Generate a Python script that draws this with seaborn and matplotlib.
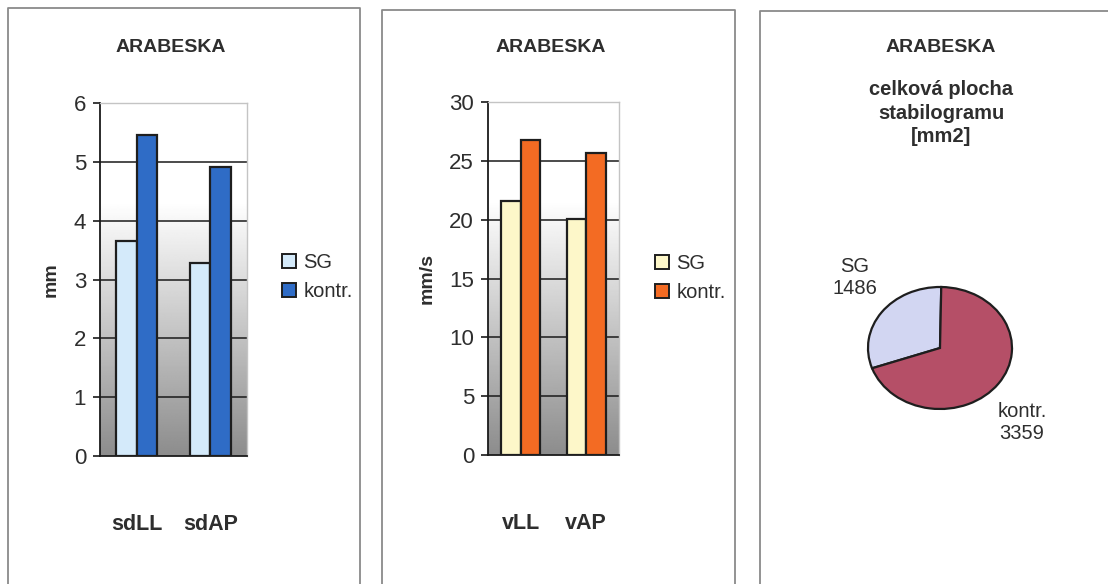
import numpy as np
import pandas as pd
import matplotlib
matplotlib.use("Agg")
import matplotlib.pyplot as plt
from matplotlib.patches import Patch
from matplotlib.lines import Line2D
import seaborn as sns

# --- data -------------------------------------------------------------
groups = ["SG", "kontr."]

sd_categories = ["sdLL", "sdAP"]
sd_sg = [3.66, 3.28]
sd_kontr = [5.45, 4.92]

v_categories = ["vLL", "vAP"]
v_sg = [21.6, 20.1]
v_kontr = [26.8, 25.7]

area_labels = ["SG", "kontr."]
area_values = [1486, 3359]

title = "ARABESKA"
pie_title = "celková plocha\nstabilogramu\n[mm2]"

# --- style ------------------------------------------------------------
sns.set_theme(style="white")
plt.rcParams["font.family"] = ["Liberation Sans", "DejaVu Sans"]
TXT = "#2e2e2e"

W, H = 1108, 584
fig = plt.figure(figsize=(W / 100, H / 100), dpi=100)
fig.patch.set_facecolor("white")


def fx(px):
    return px / W


def fy(py):
    return 1 - py / H


def gradient(ax, ymax):
    t = np.linspace(0, 1, 400)
    v = np.where(t >= 0.72, 1.0, 0.55 + 0.45 * t / 0.72)
    img = np.repeat(v[:, None], 2, axis=1)
    ax.imshow(img, cmap="gray", vmin=0, vmax=1, origin="lower",
              extent=(-0.5, 1.5, 0, ymax), aspect="auto", zorder=0,
              interpolation="bilinear")


def bar_panel(rect, cats, sg, kontr, colors, ymax, step, ylabel, width,
              legend_xy, labelpad):
    ax = fig.add_axes(rect)
    df = pd.DataFrame({
        "cat": cats * 2,
        "grp": [groups[0]] * len(cats) + [groups[1]] * len(cats),
        "val": list(sg) + list(kontr),
    })
    gradient(ax, ymax)
    sns.barplot(data=df, x="cat", y="val", hue="grp", palette=colors,
                saturation=1, width=width, edgecolor="#1e1e1e",
                linewidth=1.6, legend=False, ax=ax, zorder=3)
    ax.set_xlim(-0.5, 1.5)
    ax.set_ylim(0, ymax)
    ticks = np.arange(0, ymax + step / 2, step)
    ax.set_yticks(ticks)
    ax.set_yticklabels([f"{t:g}" for t in ticks], fontsize=16, color=TXT)
    for t in ticks[1:-1]:
        ax.axhline(t, color="#1a1a1a", lw=1.1, zorder=1)
    ax.tick_params(axis="y", which="major", left=True, length=5, width=1.2,
                   color="#1a1a1a", pad=5, direction="out")
    ax.tick_params(axis="x", bottom=False, pad=36)
    for lab in ax.get_xticklabels():
        lab.set_fontsize(15.5)
        lab.set_fontweight("bold")
        lab.set_color(TXT)
    ax.set_xlabel("")
    ax.set_ylabel(ylabel, fontsize=14, fontweight="bold", color=TXT,
                  labelpad=labelpad)
    for side in ("left", "bottom"):
        ax.spines[side].set_color("#1a1a1a")
        ax.spines[side].set_linewidth(1.3)
    for side in ("top", "right"):
        ax.spines[side].set_color("#c4c4c4")
        ax.spines[side].set_linewidth(1.0)
    handles = [Patch(facecolor=c, edgecolor="#1e1e1e", linewidth=1.4)
               for c in colors]
    ax.legend(handles, groups, loc="center left", bbox_to_anchor=legend_xy,
              bbox_transform=fig.transFigure, frameon=False, fontsize=14.5,
              handlelength=0.7, handleheight=0.7, handletextpad=0.35,
              labelspacing=0.5, borderpad=0, labelcolor=TXT)
    return ax


# panel frames
for x0, x1, top in [(8, 360, 8), (382, 735, 10), (760, 1112, 11)]:
    fig.add_artist(Line2D([fx(x0), fx(x0), fx(x1), fx(x1)],
                          [fy(H + 5), fy(top), fy(top), fy(H + 5)],
                          transform=fig.transFigure, color="#8a8a8a", lw=1.3))

# standard deviation panel
bar_panel([fx(100), fy(456), fx(147), 353 / H], sd_categories, sd_sg,
          sd_kontr, ["#d4eafa", "#2f6cc6"], 6, 1, "mm", 0.56,
          (fx(272), fy(277)), 10)
fig.text(fx(171), fy(47), title, ha="center", va="center", fontsize=14,
         fontweight="bold", color=TXT)

# velocity panel
bar_panel([fx(488), fy(455), fx(131), 352.6 / H], v_categories, v_sg,
          v_kontr, ["#fdf7c9", "#f36b23"], 30, 5, "mm/s", 0.6,
          (fx(645), fy(278)), 10)
fig.text(fx(551), fy(47), title, ha="center", va="center", fontsize=14,
         fontweight="bold", color=TXT)

# total area pie
fig.text(fx(941), fy(47), title, ha="center", va="center", fontsize=14,
         fontweight="bold", color=TXT)
fig.text(fx(941), fy(113), pie_title, ha="center", va="center",
         fontsize=14.5, fontweight="bold", color=TXT, linespacing=1.28)

axp = fig.add_axes([fx(868), fy(409), fx(144), 122 / H])
wedges, texts = axp.pie(
    area_values, labels=[f"{n}\n{v}" for n, v in zip(area_labels, area_values)],
    colors=["#d2d6f2", "#b54f67"], startangle=89, counterclock=True,
    wedgeprops=dict(edgecolor="#1e1e1e", linewidth=1.6),
    textprops=dict(fontsize=14.5, color=TXT, ha="center", va="center"))
axp.set_aspect("auto")
axp.set_xlim(-1, 1)
axp.set_ylim(-1, 1)
axp.axis("off")
for txt, pos in zip(texts, [(-1.18, 1.16), (1.14, -1.22)]):
    txt.set_position(pos)
    txt.set_ha("center")
    txt.set_va("center")
    txt.set_multialignment("center")

fig.savefig("out.png", dpi=100)
